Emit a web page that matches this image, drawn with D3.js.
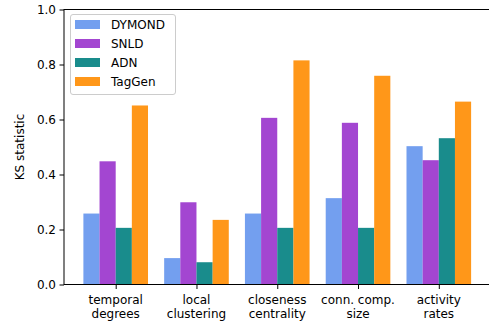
<!DOCTYPE html>
<html>
<head>
<meta charset="utf-8">
<script src="https://cdn.jsdelivr.net/npm/d3@7"></script>
<style>
  html, body { margin: 0; padding: 0; background: #fff; }
  svg { display: block; font-family: "DejaVu Sans", sans-serif; }
</style>
</head>
<body>
<svg id="chart" width="489" height="325"></svg>
<script>
// Categories along the x axis (each label split over two lines)
const categories = [
  ["temporal", "degrees"],
  ["local", "clustering"],
  ["closeness", "centrality"],
  ["conn. comp.", "size"],
  ["activity", "rates"]
];

// Model names and colours
const seriesNames = ["DYMOND", "SNLD", "ADN", "TagGen"];
const seriesColors = ["#6495ED", "#9932CC", "#008080", "#FF8C00"];

// KS statistic per model, one value per category
const dymond = [0.258, 0.096, 0.258, 0.314, 0.503];
const snld   = [0.448, 0.299, 0.606, 0.588, 0.452];
const adn    = [0.206, 0.081, 0.206, 0.206, 0.532];
const taggen = [0.651, 0.235, 0.815, 0.759, 0.665];
const seriesValues = [dymond, snld, adn, taggen];

const yTicks = [0.0, 0.2, 0.4, 0.6, 0.8, 1.0];

const svg = d3.select("#chart");
const plotLeft = 64, plotRight = 490.5, plotTop = 9.5, plotBottom = 284.5;

const barW = 0.2;
const x = d3.scaleLinear().domain([-0.64, 4.64]).range([plotLeft, plotRight]);
const y = d3.scaleLinear().domain([0, 1]).range([plotBottom, plotTop]);

// Bars
seriesValues.forEach((vals, si) => {
  svg.append("g")
    .selectAll("rect")
    .data(vals)
    .join("rect")
    .attr("x", (d, i) => x(i + (si - 1.5) * barW - barW / 2))
    .attr("width", x(barW) - x(0))
    .attr("y", d => y(d))
    .attr("height", d => y(0) - y(d))
    .attr("fill", seriesColors[si])
    .attr("fill-opacity", 0.9);
});

// Y axis
const yAxis = svg.append("g")
  .attr("transform", `translate(${plotLeft},0)`)
  .call(d3.axisLeft(y).tickValues(yTicks).tickFormat(d3.format(".1f")).tickSize(4.5).tickPadding(3.5));
yAxis.select(".domain").remove();
yAxis.selectAll("line").attr("stroke", "#000").attr("stroke-width", 1);
yAxis.selectAll("text").attr("font-size", 12).attr("fill", "#000").attr("font-family", "DejaVu Sans");

// X axis
const xAxis = svg.append("g")
  .attr("transform", `translate(0,${plotBottom})`)
  .call(d3.axisBottom(x).tickValues(d3.range(categories.length)).tickFormat("").tickSize(4.5));
xAxis.select(".domain").remove();
xAxis.selectAll("line").attr("stroke", "#000").attr("stroke-width", 1);

const xl = svg.append("g");
categories.forEach((lines, i) => {
  const t = xl.append("text")
    .attr("x", x(i))
    .attr("y", plotBottom + 19)
    .attr("text-anchor", "middle")
    .attr("font-size", 12)
    .attr("fill", "#000");
  lines.forEach((ln, k) => {
    t.append("tspan").attr("x", x(i)).attr("dy", k === 0 ? 0 : 14).text(ln);
  });
});

// Spines
svg.append("rect")
  .attr("x", plotLeft).attr("y", plotTop)
  .attr("width", plotRight - plotLeft).attr("height", plotBottom - plotTop)
  .attr("fill", "none").attr("stroke", "#000").attr("stroke-width", 1);

// Y axis label
svg.append("text")
  .attr("transform", `translate(24,${(plotTop + plotBottom) / 2}) rotate(-90)`)
  .attr("text-anchor", "middle")
  .attr("font-size", 12)
  .attr("fill", "#000")
  .text("KS statistic");

// Legend
const lg = svg.append("g");
lg.append("rect")
  .attr("x", 70.5).attr("y", 14.5).attr("width", 105).attr("height", 80)
  .attr("rx", 2.5).attr("fill", "#fff").attr("fill-opacity", 0.8)
  .attr("stroke", "#ccc").attr("stroke-width", 1);
seriesNames.forEach((name, i) => {
  const cy = 24.5 + i * 19;
  lg.append("rect")
    .attr("x", 75).attr("y", cy - 4.5).attr("width", 25).attr("height", 9)
    .attr("fill", seriesColors[i]).attr("fill-opacity", 0.9);
  lg.append("text")
    .attr("x", 111).attr("y", cy + 4.3)
    .attr("font-size", 12).attr("fill", "#000")
    .text(name);
});
</script>
</body>
</html>
